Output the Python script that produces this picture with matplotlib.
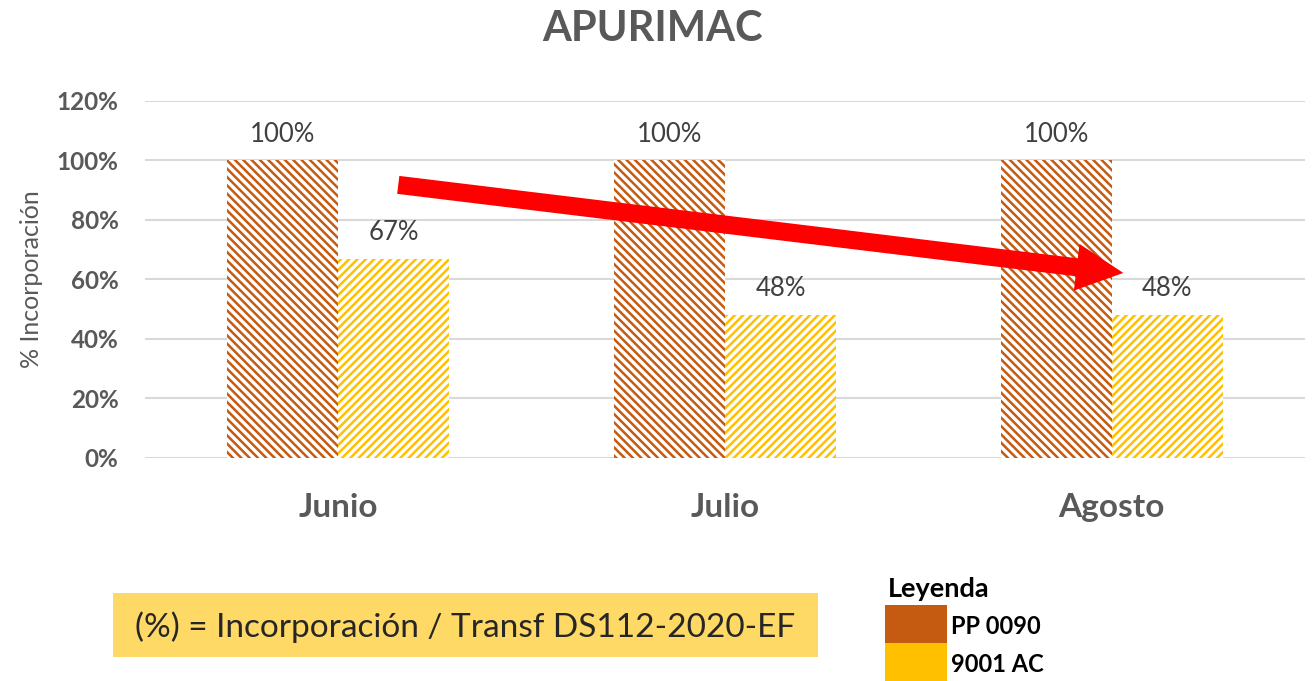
import matplotlib
matplotlib.use("Agg")
import matplotlib.pyplot as plt
import numpy as np
from matplotlib.patches import Rectangle

plt.rcParams['font.family'] = ['Lato', 'DejaVu Sans']
plt.rcParams['hatch.linewidth'] = 1.8

categories = ["Junio", "Julio", "Agosto"]
series_names = ["PP 0090", "9001 AC"]
pp0090 = [1.00, 1.00, 1.00]
ac9001 = [0.67, 0.48, 0.48]
yticks = [0, 0.2, 0.4, 0.6, 0.8, 1.0, 1.2]

c_orange = "#C55A11"
c_yellow = "#FFC000"
gray = "#595959"

fig = plt.figure(figsize=(13.12, 6.81), dpi=100)
ax = fig.add_axes([0.1105, 0.3275, 0.8842, 0.5242])

x = np.arange(len(categories))
w = 0.287
b1 = ax.bar(x - w/2, pp0090, w, facecolor="white", edgecolor=c_orange, hatch="\\" * 4, linewidth=0)
b2 = ax.bar(x + w/2, ac9001, w, facecolor="white", edgecolor=c_yellow, hatch="/" * 4, linewidth=0)

for bars, vals in ((b1, pp0090), (b2, ac9001)):
    for r, v in zip(bars, vals):
        ax.annotate(f"{v*100:.0f}%", (r.get_x() + r.get_width()/2, v),
                    xytext=(0, 10), textcoords="offset points", ha="center", va="bottom",
                    fontsize=18.5, color="#404040")

ax.set_xlim(-0.5, 2.5)
ax.set_ylim(0, 1.2)
ax.set_yticks(yticks)
ax.set_yticklabels([f"{t*100:.0f}%" for t in yticks], fontsize=17.5, fontweight="bold", color=gray)
ax.set_xticks(x)
ax.set_xticklabels(categories, fontsize=24, fontweight="bold", color=gray)
ax.tick_params(axis="y", length=0, pad=19)
ax.tick_params(axis="x", length=0, pad=25)
ax.grid(axis="y", color="#D9D9D9", linewidth=1.5)
ax.set_axisbelow(True)
for s in ax.spines.values():
    s.set_visible(False)
ax.set_ylabel("% Incorporación", fontsize=18, color=gray, labelpad=10)

ax.annotate("", xy=(2.03, 0.622), xytext=(0.155, 0.918),
            arrowprops=dict(arrowstyle="simple,head_width=2.6,head_length=2.6,tail_width=1.0",
                            mutation_scale=13, color="#FF0000", lw=0, shrinkA=0, shrinkB=0))

fig.text(0.497, 0.957, "APURIMAC", ha="center", va="center", fontsize=30, fontweight="bold", color=gray)

fig.patches.append(Rectangle((113/1312, 1 - 657/681), 705/1312, 64/681, transform=fig.transFigure,
                             facecolor="#FFD966", edgecolor="none"))
fig.text(465/1312, 1 - 627/681, "(%) = Incorporación / Transf DS112-2020-EF", ha="center", va="center",
         fontsize=24, color="#262626")

fig.text(888/1312, 1 - 589/681, "Leyenda", ha="left", va="center", fontsize=19.5, fontweight="bold", color="black")
fig.patches.append(Rectangle((885/1312, 1 - 643/681), 62/1312, 38/681, transform=fig.transFigure,
                             facecolor=c_orange, edgecolor="none"))
fig.patches.append(Rectangle((885/1312, 1 - 681/681), 62/1312, 38/681, transform=fig.transFigure,
                             facecolor=c_yellow, edgecolor="none"))
fig.text(951/1312, 1 - 626/681, series_names[0], ha="left", va="center", fontsize=17, fontweight="bold", color="black")
fig.text(951/1312, 1 - 664/681, series_names[1], ha="left", va="center", fontsize=17, fontweight="bold", color="black")

fig.savefig("out.png", dpi=100)
